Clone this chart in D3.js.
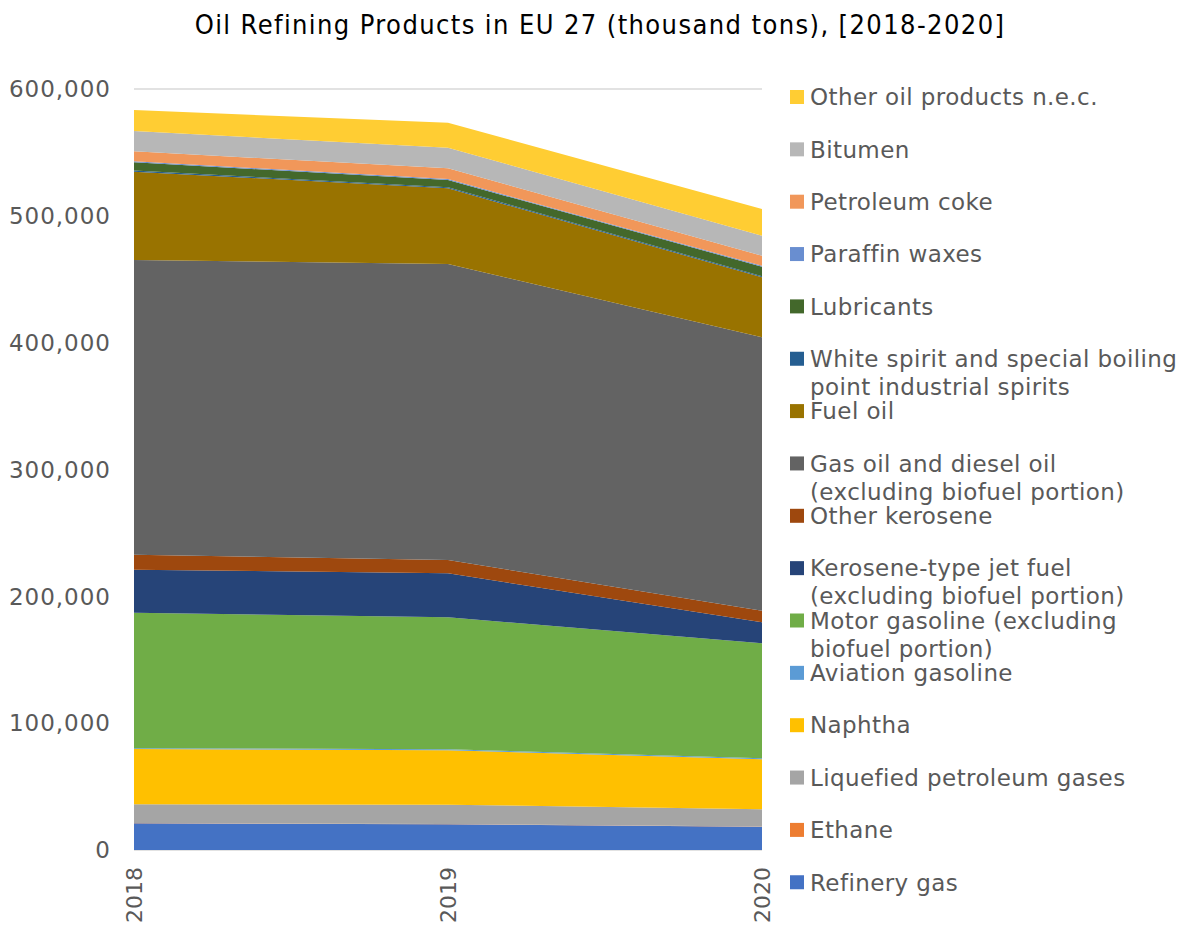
<!DOCTYPE html>
<html>
<head>
<meta charset="utf-8">
<script src="https://cdn.jsdelivr.net/npm/d3@7"></script>
<style>
  body { margin: 0; background: #fff; }
  svg text { fill: #595959; }
</style>
</head>
<body>
<div class="chart"></div>
<script>
// years on the x axis
const years = [2018, 2019, 2020];

// product names, bottom of the stack first
const products = [
  "Refinery gas",
  "Ethane",
  "Liquefied petroleum gases",
  "Naphtha",
  "Aviation gasoline",
  "Motor gasoline (excluding biofuel portion)",
  "Kerosene-type jet fuel (excluding biofuel portion)",
  "Other kerosene",
  "Gas oil and diesel oil (excluding biofuel portion)",
  "Fuel oil",
  "White spirit and special boiling point industrial spirits",
  "Lubricants",
  "Paraffin waxes",
  "Petroleum coke",
  "Bitumen",
  "Other oil products n.e.c."
];

// legend labels as they wrap in the picture
const legendLines = [
  ["Refinery gas"],
  ["Ethane"],
  ["Liquefied petroleum gases"],
  ["Naphtha"],
  ["Aviation gasoline"],
  ["Motor gasoline (excluding", "biofuel portion)"],
  ["Kerosene-type jet fuel", "(excluding biofuel portion)"],
  ["Other kerosene"],
  ["Gas oil and diesel oil", "(excluding biofuel portion)"],
  ["Fuel oil"],
  ["White spirit and special boiling", "point industrial spirits"],
  ["Lubricants"],
  ["Paraffin waxes"],
  ["Petroleum coke"],
  ["Bitumen"],
  ["Other oil products n.e.c."]
];

const colors = [
  "#4472C4", "#ED7D31", "#A5A5A5", "#FFC000", "#5B9BD5", "#70AD47",
  "#264478", "#9E480E", "#636363", "#997300", "#255E91", "#43682B",
  "#698ED0", "#F1975A", "#B7B7B7", "#FFCD33"
];

// values per product, one per year (thousand tons)
const refineryGas   = [21000, 20300, 18400];
const ethane        = [200, 200, 200];
const lpg           = [14800, 15200, 13500];
const naphtha       = [43600, 43000, 39500];
const aviationGas   = [700, 700, 700];
const motorGasoline = [106800, 104100, 90700];
const jetFuel       = [33900, 34700, 16500];
const otherKerosene = [11800, 10400, 9200];
const gasOil        = [232400, 233400, 215500];
const fuelOil       = [69600, 59700, 47300];
const whiteSpirit   = [900, 900, 800];
const lubricants    = [6500, 5600, 7600];
const paraffinWaxes = [800, 800, 700];
const petCoke       = [7900, 8500, 8000];
const bitumen       = [16000, 16200, 15700];
const otherProducts = [16500, 19700, 21100];

const yTicks = [0, 100000, 200000, 300000, 400000, 500000, 600000];

const series = [refineryGas, ethane, lpg, naphtha, aviationGas, motorGasoline,
  jetFuel, otherKerosene, gasOil, fuelOil, whiteSpirit, lubricants,
  paraffinWaxes, petCoke, bitumen, otherProducts];

const table = years.map((yr, i) => {
  let row = { year: yr };
  products.forEach((p, k) => { row[p] = series[k][i]; });
  return row;
});

const width = 1181, height = 927;
const font = "'DejaVu Sans', Verdana, sans-serif";

const svg = d3.select("div.chart").append("svg")
  .attr("width", width)
  .attr("height", height);

const x = d3.scalePoint().domain(years).range([134, 762]);
const y = d3.scaleLinear().domain([0, 600000]).range([850, 89]);

// gridlines
svg.append("g").selectAll("line")
  .data(yTicks)
  .enter().append("line")
  .attr("x1", 134).attr("x2", 762)
  .attr("y1", d => y(d)).attr("y2", d => y(d))
  .attr("stroke", "#D9D9D9")
  .attr("stroke-width", 1.3);

const stack = d3.stack().keys(products);
const layers = stack(table);

const area = d3.area()
  .x(d => x(d.data.year))
  .y0(d => y(d[0]))
  .y1(d => y(d[1]));

svg.append("g").selectAll("path")
  .data(layers)
  .enter().append("path")
  .attr("d", area)
  .attr("fill", (d, i) => colors[i]);

// y axis labels
svg.append("g").selectAll("text")
  .data(yTicks)
  .enter().append("text")
  .attr("x", 111)
  .attr("y", d => y(d))
  .attr("dy", "0.36em")
  .attr("text-anchor", "end")
  .style("font-family", font)
  .style("font-size", "23px")
  .style("letter-spacing", "1px")
  .text(d => d3.format(",")(d));

// x axis labels, rotated
svg.append("g").selectAll("text")
  .data(years)
  .enter().append("text")
  .attr("transform", d => `translate(${x(d)},867) rotate(-90)`)
  .attr("dy", "0.36em")
  .attr("text-anchor", "end")
  .style("font-family", font)
  .style("font-size", "22px")
  .text(d => d);

// title
svg.append("text")
  .attr("x", 600)
  .attr("y", 34)
  .attr("text-anchor", "middle")
  .style("font-family", "'DejaVu Sans Condensed', sans-serif")
  .style("font-size", "27px")
  .style("letter-spacing", "1.4px")
  .style("fill", "#000")
  .text("Oil Refining Products in EU 27 (thousand tons), [2018-2020]");

// legend, top entry is the top of the stack
const legend = svg.append("g");
const order = d3.range(products.length).reverse();
order.forEach((k, pos) => {
  const cy = 97 + pos * 52.35;
  legend.append("rect")
    .attr("x", 790).attr("y", cy - 7)
    .attr("width", 14).attr("height", 14)
    .attr("fill", colors[k]);
  legendLines[k].forEach((line, j) => {
    legend.append("text")
      .attr("x", 810)
      .attr("y", cy + j * 28)
      .attr("dy", "0.36em")
      .style("font-family", font)
      .style("font-size", "23px")
      .style("letter-spacing", "0.4px")
      .text(line);
  });
});
</script>
</body>
</html>
